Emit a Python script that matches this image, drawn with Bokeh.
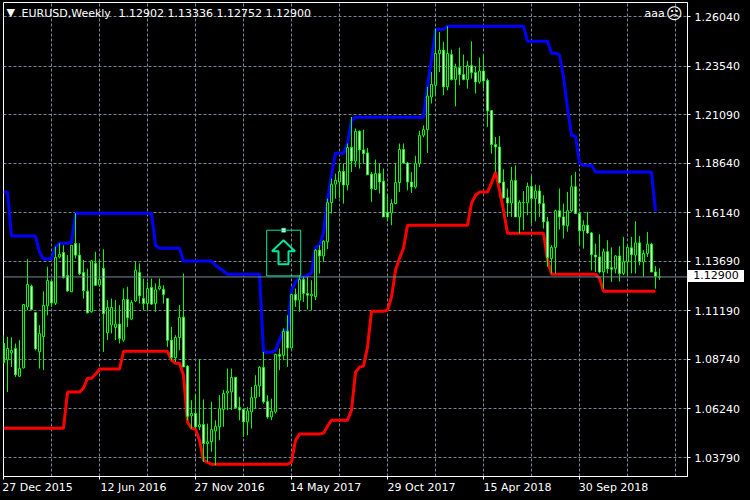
from bokeh.plotting import figure
from bokeh.layouts import column
from bokeh.models import ColumnDataSource, Range1d, FixedTicker, LinearAxis, PrintfTickFormatter, Span, Label, BoxAnnotation, PolyAnnotation, Div
from bokeh.embed import file_html
from bokeh.resources import INLINE

opens = [1.0954,1.0872,1.0907,1.0929,1.0789,1.0831,1.1139,1.1243,1.1110,1.0912,1.0989,1.1144,1.1267,1.1158,1.1391,1.1413,1.1297,1.1215,1.1459,1.1400,
1.1312,1.1218,1.1114,1.1358,1.1250,1.1333,1.1008,1.1048,1.1035,1.1052,1.0971,1.1176,1.1077,1.1169,1.1312,1.1181,1.1156,1.1237,1.1156,1.1230,
1.1227,1.1181,1.0971,1.0882,1.0984,1.1087,1.0840,1.0589,1.0601,1.0534,1.0545,1.0450,1.0458,1.0513,1.0534,1.0621,1.0705,1.0710,1.0783,1.0631,
1.0621,1.0559,1.0609,1.0680,1.0740,1.0833,1.0661,1.0584,1.0609,1.0899,1.0895,1.1016,1.0932,1.1201,1.1173,1.1277,1.1206,1.1195,1.1190,1.1425,
1.1396,1.1467,1.1665,1.1758,1.1769,1.1822,1.1754,1.1943,1.1875,1.2025,1.1931,1.1916,1.1808,1.1732,1.1811,1.1773,1.1615,1.1613,1.1660,1.1766,
1.1933,1.1865,1.1769,1.1744,1.1862,1.2005,1.2033,1.2198,1.2257,1.2417,1.2434,1.2249,1.2412,1.2286,1.2346,1.2311,1.2286,1.2356,1.2321,1.2274,
1.2329,1.2281,1.2129,1.1958,1.1946,1.1769,1.1689,1.1663,1.1776,1.1593,1.1664,1.1664,1.1746,1.1686,1.1724,1.1660,1.1568,1.1383,1.1439,1.1624,
1.1593,1.1548,1.1624,1.1745,1.1610,1.1523,1.1551,1.1512,1.1401,1.1391,1.1315,1.1417,1.1337,1.1331,1.1396,1.1308,1.1366,1.1437,1.1400,1.1462,
1.1366,1.1408,1.1455,1.1315,1.12902]
highs = [1.0996,1.0988,1.0985,1.0954,1.0971,1.1151,1.1380,1.1252,1.1110,1.1047,1.1218,1.1341,1.1274,1.1442,1.1459,1.1450,1.1400,1.1450,1.1612,1.1460,
1.1375,1.1332,1.1375,1.1417,1.1375,1.1430,1.1173,1.1181,1.1173,1.1148,1.1232,1.1240,1.1173,1.1366,1.1358,1.1282,1.1265,1.1282,1.1257,1.1282,
1.1248,1.1181,1.1038,1.0996,1.1148,1.1307,1.0845,1.0668,1.0698,1.0873,1.0672,1.0550,1.0660,1.0567,1.0693,1.0719,1.0828,1.0828,1.0786,1.0685,
1.0626,1.0634,1.0735,1.0794,1.0840,1.0912,1.0693,1.0676,1.0903,1.0929,1.1030,1.1097,1.1206,1.1232,1.1299,1.1290,1.1290,1.1273,1.1430,1.1450,
1.1475,1.1685,1.1786,1.1811,1.1862,1.1862,1.1963,1.2097,1.2039,1.2030,1.2033,1.1941,1.1820,1.1882,1.1862,1.1837,1.1707,1.1682,1.1865,1.1963,
1.1963,1.1870,1.1820,1.1901,1.2027,1.2055,1.2249,1.2324,1.2543,1.2526,1.2476,1.2555,1.2437,1.2366,1.2447,1.2412,1.2380,1.2479,1.2350,1.2397,
1.2412,1.2291,1.2131,1.1996,1.2000,1.1833,1.1736,1.1845,1.1853,1.1677,1.1723,1.1766,1.1798,1.1756,1.1752,1.1702,1.1593,1.1450,1.1630,1.1736,
1.1660,1.1719,1.1803,1.1820,1.1618,1.1576,1.1618,1.1517,1.1458,1.1505,1.1433,1.1475,1.1439,1.1400,1.1445,1.1492,1.1450,1.1492,1.1571,1.1496,
1.1425,1.1517,1.1462,1.1345,1.13336]
lows = [1.0853,1.0710,1.0836,1.0786,1.0786,1.0828,1.1122,1.1122,1.0920,1.0828,1.0820,1.1097,1.1139,1.1148,1.1383,1.1282,1.1215,1.1215,1.1383,1.1299,
1.1181,1.1106,1.1110,1.1245,1.1240,1.0912,1.0971,1.1005,1.0971,1.0954,1.0963,1.1038,1.1072,1.1164,1.1156,1.1122,1.1122,1.1148,1.1114,1.1223,
1.1156,1.0937,1.0870,1.0862,1.0920,1.0836,1.0567,1.0525,1.0525,1.0517,1.0357,1.0357,1.0408,1.0340,1.0466,1.0534,1.0618,1.0618,1.0626,1.0567,
1.0483,1.0491,1.0525,1.0626,1.0685,1.0651,1.0575,1.0567,1.0601,1.0820,1.0870,1.0836,1.0929,1.1139,1.1114,1.1164,1.1126,1.1122,1.1173,1.1307,
1.1366,1.1430,1.1610,1.1685,1.1689,1.1660,1.1727,1.1820,1.1845,1.1837,1.1862,1.1803,1.1669,1.1731,1.1711,1.1593,1.1573,1.1551,1.1657,1.1719,
1.1862,1.1727,1.1714,1.1736,1.1845,1.1995,1.1916,1.2165,1.2207,1.2324,1.2207,1.2232,1.2282,1.2151,1.2257,1.2282,1.2240,1.2291,1.2215,1.2265,
1.2240,1.2047,1.1912,1.1820,1.1761,1.1685,1.1593,1.1593,1.1593,1.1509,1.1526,1.1602,1.1560,1.1571,1.1593,1.1534,1.1341,1.1308,1.1308,1.1529,
1.1484,1.1518,1.1618,1.1607,1.1450,1.1433,1.1508,1.1323,1.1315,1.1308,1.1231,1.1308,1.1265,1.1308,1.1268,1.1299,1.1291,1.1308,1.1308,1.1349,
1.1291,1.1391,1.1315,1.1231,1.12752]
closes = [1.0858,1.0929,1.0919,1.0798,1.0828,1.1151,1.1252,1.1126,1.0927,1.1004,1.1146,1.1272,1.1159,1.1388,1.1405,1.1287,1.1220,1.1450,1.1400,1.1306,
1.1220,1.1109,1.1371,1.1248,1.1277,1.1105,1.1136,1.1136,1.1052,1.0979,1.1176,1.1084,1.1161,1.1324,1.1195,1.1156,1.1232,1.1153,1.1225,1.1243,
1.1201,1.0971,1.0883,1.0984,1.1085,1.0836,1.0587,1.0601,1.0534,1.0545,1.0450,1.0458,1.0520,1.0537,1.0625,1.0702,1.0714,1.0783,1.0630,1.0619,
1.0559,1.0614,1.0681,1.0743,1.0833,1.0660,1.0584,1.0612,1.0899,1.0890,1.1016,1.0932,1.1201,1.1173,1.1277,1.1206,1.1198,1.1203,1.1425,1.1396,
1.1470,1.1665,1.1758,1.1778,1.1822,1.1754,1.1943,1.1875,1.2025,1.1931,1.1912,1.1806,1.1736,1.1811,1.1769,1.1593,1.1593,1.1660,1.1766,1.1933,
1.1865,1.1769,1.1744,1.1862,1.2003,1.2033,1.2203,1.2262,1.2417,1.2434,1.2249,1.2417,1.2286,1.2346,1.2311,1.2286,1.2356,1.2321,1.2274,1.2329,
1.2279,1.2128,1.1958,1.1946,1.1766,1.1689,1.1663,1.1776,1.1593,1.1667,1.1666,1.1746,1.1686,1.1724,1.1660,1.1568,1.1388,1.1439,1.1624,1.1593,
1.1551,1.1624,1.1745,1.1610,1.1523,1.1551,1.1512,1.1403,1.1391,1.1315,1.1417,1.1332,1.1329,1.1396,1.1308,1.1366,1.1439,1.1403,1.1462,1.1368,
1.1408,1.1455,1.1315,1.1294,1.12900]

upper_band = [1.1718,1.1718,1.1496,1.1496,1.1496,1.1496,1.1496,1.1496,1.1496,1.1415,1.1380,1.1380,1.1380,1.1440,1.1460,1.1460,1.1460,1.1465,
1.1612,1.1612,1.1612,1.1612,1.1612,1.1612,1.1612,1.1612,1.1612,1.1612,1.1612,1.1612,1.1612,1.1612,1.1612,1.1612,1.1612,1.1612,1.1612,1.1612,
1.1450,1.1435,1.1435,1.1435,1.1435,1.1435,1.1435,1.1370,1.1370,1.1370,1.1370,1.1370,1.1370,1.1370,1.1370,1.1349,1.1334,1.1319,
1.1304,1.1304,1.1304,1.1304,1.1304,1.1304,1.1304,1.1304,1.1304,1.0910,1.0910,1.0910,1.0920,1.0971,1.1021,1.1021,1.1223,1.1264,1.1289,1.1289,1.1299,1.1309,
1.1440,1.1450,1.1511,1.1677,1.1803,1.1914,1.1914,1.1914,1.1965,1.2081,
1.2096,1.2096,1.2096,1.2096,1.2096,1.2096,1.2096,1.2096,1.2096,1.2096,1.2096,1.2096,1.2096,1.2096,1.2096,1.2096,1.2096,1.2096,
1.2257,1.2384,1.2540,1.2540,1.2540,
1.2555,1.2555,1.2555,1.2555,1.2555,1.2555,1.2555,1.2555,1.2555,1.2555,1.2555,1.2555,1.2555,1.2555,1.2555,1.2555,1.2555,1.2555,1.2555,1.2555,
1.2479,1.2479,1.2479,1.2479,1.2479,1.2479,1.2419,1.2419,1.2409,1.2298,1.2141,1.2005,1.2000,1.1864,1.1854,1.1854,1.1854,
1.1819,1.1819,1.1819,1.1819,1.1819,1.1819,1.1819,1.1819,1.1819,1.1819,1.1819,1.1819,1.1819,1.1819,1.1819,1.1622]
lower_band = [1.0527,1.0527,1.0527,1.0527,1.0527,1.0527,1.0527,1.0527,1.0527,1.0527,1.0527,1.0527,1.0527,1.0527,1.0527,1.0527,
1.0709,1.0709,1.0709,1.0709,1.0729,1.0779,1.0779,1.0799,1.0825,1.0825,1.0825,1.0825,1.0825,1.0825,
1.0915,1.0915,1.0915,1.0915,1.0915,1.0915,1.0915,1.0915,1.0915,1.0915,1.0915,1.0915,1.0870,1.0855,1.0855,1.0794,1.0557,1.0527,1.0522,1.0466,1.0365,1.0355,
1.0345,1.0345,1.0345,1.0345,1.0345,1.0345,1.0345,1.0345,1.0345,1.0345,1.0345,1.0345,1.0345,1.0345,1.0345,1.0345,1.0345,1.0345,1.0345,1.0345,
1.0355,1.0466,1.0497,1.0497,1.0497,1.0497,1.0497,1.0497,1.0502,1.0537,1.0567,1.0567,1.0567,1.0567,1.0567,1.0618,1.0809,1.0835,1.0840,1.0936,
1.1117,1.1117,1.1117,1.1117,1.1122,1.1188,1.1324,1.1385,1.1435,
1.1551,1.1551,1.1551,1.1551,1.1551,1.1551,1.1551,1.1551,1.1551,1.1551,1.1551,1.1551,1.1551,1.1551,1.1551,1.1551,
1.1662,1.1702,1.1718,1.1718,1.1718,1.1763,1.1819,1.1728,1.1627,
1.1511,1.1511,1.1511,1.1511,1.1511,1.1511,1.1511,1.1511,1.1511,1.1511,1.1375,
1.1304,1.1304,1.1304,1.1304,1.1304,1.1304,1.1304,1.1304,1.1304,1.1304,1.1304,1.1304,1.1284,
1.1218,1.1218,1.1218,1.1218,1.1218,1.1218,1.1218,1.1218,1.1218,1.1218,1.1218,1.1218,1.1218,1.1218]

y_ticks = [1.26040,1.23540,1.21090,1.18640,1.16140,1.13690,1.11190,1.08740,1.06240,1.03790]
x_tick_bars = [0,24,48,72,96,120,144]
x_tick_labels = ["27 Dec 2015","12 Jun 2016","27 Nov 2016","14 May 2017","29 Oct 2017","15 Apr 2018","30 Sep 2018"]
x_grid_bars = [12,24,36,48,60,72,84,96,108,120,132,144,156,168]
last_price = 1.12900
symbol_text = "EURUSD,Weekly"
ohlc_text = "1.12902 1.13336 1.12752 1.12900"

signal_box = (65.8, 74.3, 1.15259, 1.12953)
signal_arrow_x = [70, 72.875, 71.25, 71.25, 68.75, 68.75, 67.125]
signal_arrow_y = [1.14754, 1.14199, 1.14199, 1.13543, 1.13543, 1.14199, 1.14199]

GRID = "#778899"; GREEN = "#00ff00"; SIGNAL = "#00e699"; FONT = "DejaVu Sans"
LABEL_SHIFT = 8.5

p = figure(width=750, height=500, output_backend="svg", toolbar_location=None,
           x_range=Range1d(0, 171), y_range=Range1d(1.02832, 1.26747),
           x_axis_location=None, y_axis_location=None,
           min_border_left=3, min_border_right=63, min_border_top=2, min_border_bottom=24,
           background_fill_color="black", border_fill_color="black", outline_line_color="white")

xs = list(range(len(opens)))
src = ColumnDataSource(dict(x=xs, open=opens, high=highs, low=lows, close=closes,
    top=[max(a, b) for a, b in zip(opens, closes)],
    bottom=[min(a, b) for a, b in zip(opens, closes)],
    fill=["white" if c < o else "black" for o, c in zip(opens, closes)]))

def style(ax):
    ax.axis_line_color = "white"; ax.major_tick_line_color = "white"; ax.minor_tick_line_color = None
    ax.major_tick_in = 0; ax.major_tick_out = 3; ax.major_label_text_color = "white"
    ax.major_label_text_font = FONT; ax.major_label_text_font_size = "11px"

tick_ax = LinearAxis(ticker=FixedTicker(ticks=x_tick_bars),
                     major_label_overrides={b: "" for b in x_tick_bars})
style(tick_ax); tick_ax.major_label_standoff = 0; tick_ax.major_label_text_font_size = "1px"
label_ticks = [b + LABEL_SHIFT for b in x_tick_bars]
lab_ax = LinearAxis(ticker=FixedTicker(ticks=label_ticks),
                    major_label_overrides={b: t for b, t in zip(label_ticks, x_tick_labels)})
style(lab_ax); lab_ax.axis_line_color = None; lab_ax.major_tick_line_color = None
lab_ax.major_tick_out = 0; lab_ax.major_label_standoff = 1
p.add_layout(tick_ax, "below"); p.add_layout(lab_ax, "below")

yax = LinearAxis(ticker=FixedTicker(ticks=y_ticks), formatter=PrintfTickFormatter(format="%.5f"))
style(yax); yax.major_label_standoff = 4
p.add_layout(yax, "right")

p.xgrid.ticker = FixedTicker(ticks=x_grid_bars)
p.ygrid.ticker = FixedTicker(ticks=y_ticks)
for g in (p.xgrid, p.ygrid):
    g.grid_line_color = GRID; g.grid_line_dash = "3 2"; g.grid_line_width = 1

p.add_layout(Span(location=last_price, dimension="width", line_color=GRID, line_width=1))

p.line(list(range(len(upper_band))), upper_band, line_color="#0000ff", line_width=3)
p.line(list(range(len(lower_band))), lower_band, line_color="#ff0000", line_width=3)
p.segment("x", "low", "x", "high", source=src, line_color=GREEN, line_width=1)
p.vbar(x="x", width=0.5, top="top", bottom="bottom", source=src, fill_color="fill", line_color=GREEN, line_width=1)

p.add_layout(BoxAnnotation(left=signal_box[0], right=signal_box[1], bottom=signal_box[3], top=signal_box[2],
                           fill_alpha=0, line_color=SIGNAL, line_width=1, line_alpha=1))
p.add_layout(PolyAnnotation(xs=signal_arrow_x, ys=signal_arrow_y, fill_alpha=0, line_color=SIGNAL, line_width=2, line_alpha=1))
p.scatter([(signal_box[0] + signal_box[1]) / 2], [signal_box[2]], marker="square", size=4, fill_color="white", line_color=SIGNAL, line_width=0.5)

BOTTOM = 476.0
def lab(text, x, ypx, **kw):
    p.add_layout(Label(x=x, y=BOTTOM - ypx, x_units="screen", y_units="screen", text=text, text_color="white",
                       text_font=FONT, text_font_size=kw.pop("size", "11px"), text_baseline="middle", **kw))
lab("\u25bc", 3, 12, size="11px")
lab(symbol_text, 18, 12.5)
lab(ohlc_text, 115, 12.5)
lab("aaa", 641, 13)
lab("\u2639", 662.5, 12.5, size="16px")

price_box = Div(text="1.12900", width=56, height=12, margin=0, styles={
    "position": "absolute", "left": "688px", "top": "270px", "width": "56px", "height": "12px",
    "background-color": "white", "color": "black", "font-family": "'DejaVu Sans'", "font-size": "11px",
    "line-height": "12px", "text-align": "center", "z-index": "10"})

html = file_html(column(p, price_box, spacing=0, margin=0), INLINE)
html = html.replace("<head>", "<head><style>html,body{margin:0;padding:0;background:#000;overflow:hidden}</style>", 1)
open("out.html", "w").write(html)
